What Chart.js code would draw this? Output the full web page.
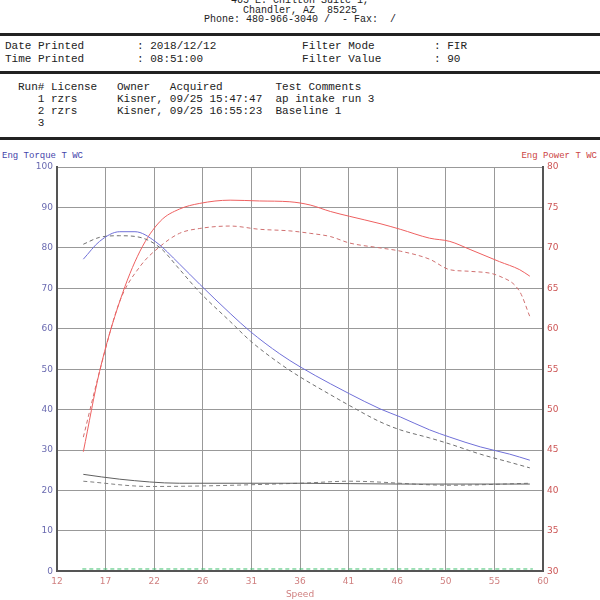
<!DOCTYPE html>
<html><head><meta charset="utf-8">
<script src="https://cdn.jsdelivr.net/npm/chart.js@4"></script>
<style>
body{margin:0;width:600px;height:600px;background:#fff;position:relative;overflow:hidden;font-family:"Liberation Mono","DejaVu Sans Mono",monospace;color:#222}
.t{position:absolute;font-size:11px;white-space:pre}
.rule{position:absolute;left:0;width:600px;height:3px;background:#222}
#wrap{position:absolute;left:0;top:145px;width:600px;height:455px}
</style></head><body>
<div class="t" style="left:0;width:600px;text-align:center;top:-4px;line-height:9.5px;font-size:10px">465 E. Chilton Suite 1,
Chandler, AZ  85225
Phone: 480-966-3040 /  - Fax:  /</div>
<div class="rule" style="top:33px"></div>
<div class="t" style="left:5px;top:40px;line-height:13px">Date Printed        : 2018/12/12             Filter Mode         : FIR
Time Printed        : 08:51:00               Filter Value        : 90</div>
<div class="rule" style="top:71px"></div>
<div class="t" style="left:18px;top:81px;line-height:12px">Run# License   Owner   Acquired        Test Comments
   1 rzrs      Kisner, 09/25 15:47:47  ap intake run 3
   2 rzrs      Kisner, 09/25 16:55:23  Baseline 1
   3</div>
<div class="rule" style="top:137px"></div>
<div class="t" style="left:2px;top:151px;font-size:9px;color:#4444aa">Eng Torque T WC</div>
<div class="t" style="right:3px;top:151px;font-size:9px;color:#cc4444">Eng Power T WC</div>
<div id="wrap"><canvas id="c" width="600" height="455"></canvas></div>
<script>
const xTickLabels=["12","17","22","26","31","36","41","46","50","55","60"];
const torqueRun1X=[14.6,16.2,18.2,19.7,21.7,24.1,26.1,29.1,31.1,34,36,39,40.9,43.9,45.9,48.8,50.8,53.8,56.7,58.7];
const torqueRun1=[77.2,81.6,84,84,81.6,76,71,63.8,59.3,53.8,50.6,46.4,43.9,40.2,38.2,35,33.2,30.8,29,27.5];
const torqueRun2X=[14.6,16.2,18.2,20.2,22.2,24.1,26.1,29.1,31.1,34,36,39,40.9,43.9,45.9,48.8,50.8,53.8,56.7,58.7];
const torqueRun2=[80.9,82.6,83,82.6,80,74.7,69,61.8,57,51.4,48.1,43.7,41,37,35,33,31.5,29,27,25.6];
const powerX=[14.6,16.2,18.2,20.2,22.2,24.1,26.1,29.1,32,35,37,39,40.9,43.9,45.9,48.8,50.8,52.8,55.7,57.7,58.7];
const powerRun1=[44.8,54.7,63.4,69.6,73.3,74.8,75.5,75.9,75.8,75.7,75.3,74.5,73.9,73,72.3,71.2,70.8,69.8,68.3,67.3,66.5];
const powerRun2=[46.6,54.7,63.4,67.7,70.2,71.8,72.4,72.7,72.3,72.1,71.8,71.4,70.6,70,69.6,68.6,67.3,67.1,66.5,64.6,61.5];
const lowRun1X=[14.6,18.2,24.1,36,45.9,58.7];
const lowRun1=[24,22.8,21.8,21.8,21.6,21.6];
const lowRun2X=[14.6,21.2,36,40.9,50.8,58.7];
const lowRun2=[22.3,21,21.8,22.3,21.3,21.8];
const greenX=[14.5,59];
const greenY=[0.6,0.6];
const pts=(xs,ys)=>xs.map((x,i)=>({x:x,y:ys[i]}));
const ds=(xs,ys,color,dash,axis)=>({data:pts(xs,ys),borderColor:color,borderWidth:1,borderDash:dash,pointRadius:0,cubicInterpolationMode:'monotone',yAxisID:axis,fill:false});
new Chart(document.getElementById('c'),{type:'line',
data:{datasets:[
ds(torqueRun1X,torqueRun1,'#7070d8',[],'y'),
ds(torqueRun2X,torqueRun2,'#707070',[4,3],'y'),
ds(powerX,powerRun1,'#ee6060',[],'y1'),
ds(powerX,powerRun2,'#d07070',[4,3],'y1'),
ds(lowRun1X,lowRun1,'#606060',[],'y'),
ds(lowRun2X,lowRun2,'#808080',[4,3],'y'),
ds(greenX,greenY,'#40c070',[4,3],'y')]},
options:{responsive:false,animation:false,plugins:{legend:{display:false},tooltip:{enabled:false}},
layout:{padding:{top:22,left:0,right:0,bottom:0}},
scales:{
x:{type:'linear',min:12,max:60,
afterBuildTicks:a=>{a.ticks=xTickLabels.map((l,i)=>({value:12+i*4.8}));},
ticks:{callback:(v,i)=>xTickLabels[i],color:'#d08080',font:{size:9,family:'DejaVu Sans'},padding:5,maxRotation:0},
grid:{color:'#999',drawTicks:false},border:{color:'#555',width:2},
title:{display:true,text:'Speed',color:'#d08080',font:{size:9,family:'DejaVu Sans'},padding:{top:-3,bottom:0}}},
y:{min:0,max:100,position:'left',afterFit:a=>{a.width=57;},
ticks:{stepSize:10,color:'#6a6ab0',font:{size:9,family:'DejaVu Sans'},padding:4},
grid:{color:'#999',drawTicks:false},border:{color:'#555',width:2}},
y1:{min:30,max:80,position:'right',afterFit:a=>{a.width=57;},
ticks:{stepSize:5,color:'#cc5555',font:{size:9,family:'DejaVu Sans'},padding:4},
grid:{display:false,drawTicks:false},border:{color:'#555',width:2}}}}});
</script></body></html>
